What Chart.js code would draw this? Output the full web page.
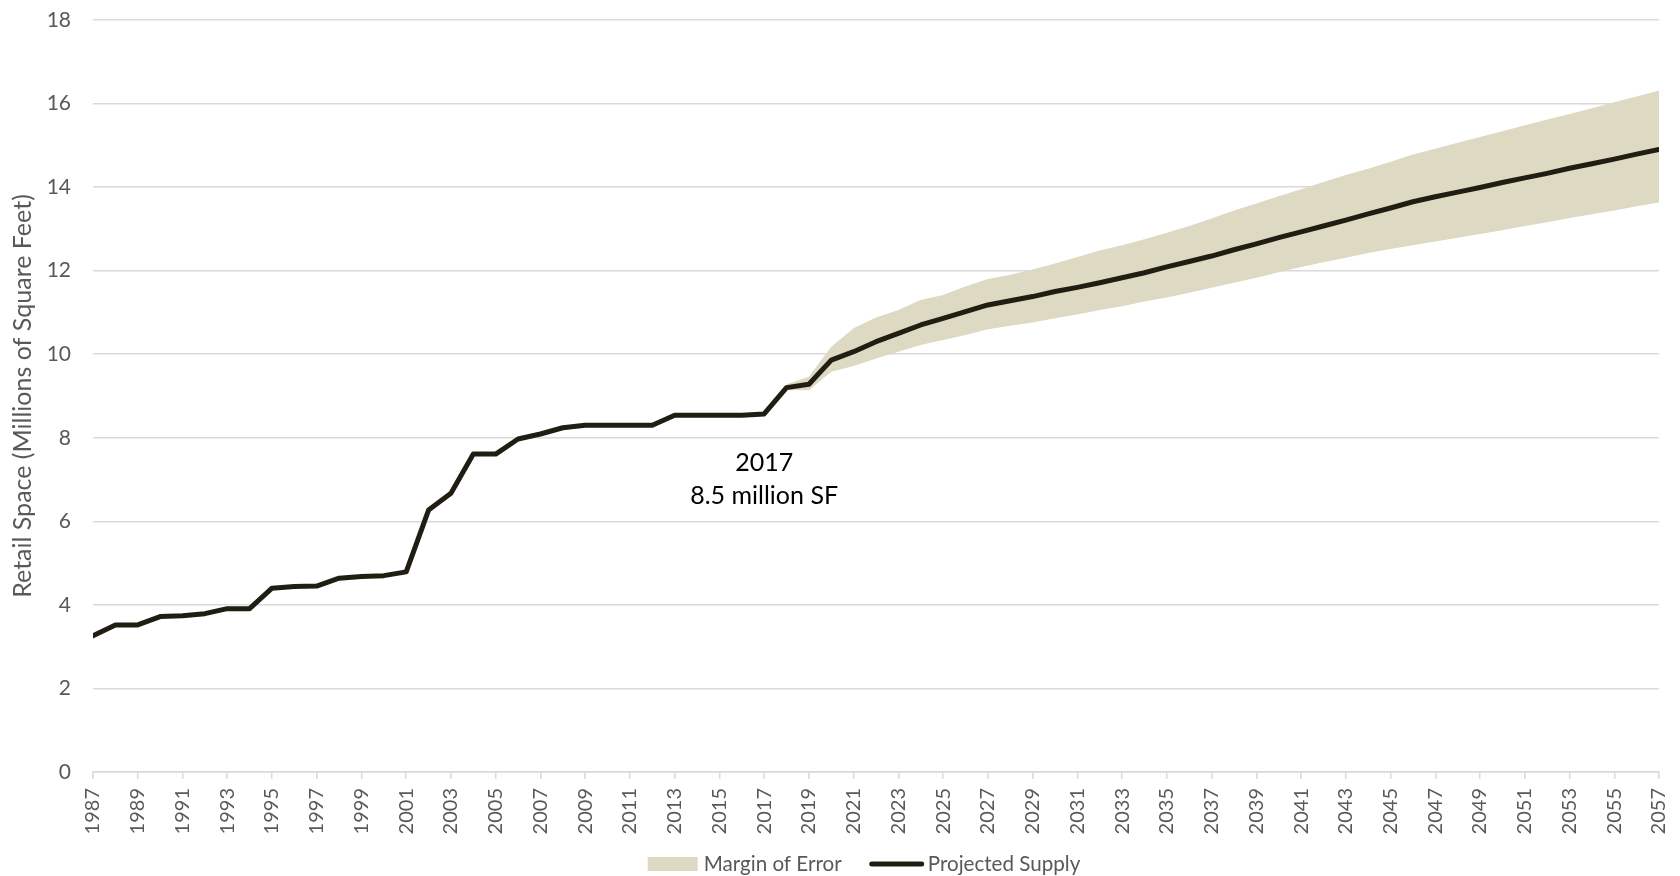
<!DOCTYPE html>
<html>
<head>
<meta charset="utf-8">
<script src="https://cdn.jsdelivr.net/npm/chart.js@4.4.1/dist/chart.umd.min.js"></script>
<style>
  html, body { margin: 0; padding: 0; background: #fff; overflow: hidden; }
  #wrap { width: 1680px; height: 876px; position: relative; }
</style>
</head>
<body>
<div id="wrap"><canvas id="supply-chart"></canvas></div>
<script>
// years on the x axis
const years = [
  1987, 1988, 1989, 1990, 1991, 1992, 1993, 1994, 1995, 1996,
  1997, 1998, 1999, 2000, 2001, 2002, 2003, 2004, 2005, 2006,
  2007, 2008, 2009, 2010, 2011, 2012, 2013, 2014, 2015, 2016,
  2017, 2018, 2019, 2020, 2021, 2022, 2023, 2024, 2025, 2026,
  2027, 2028, 2029, 2030, 2031, 2032, 2033, 2034, 2035, 2036,
  2037, 2038, 2039, 2040, 2041, 2042, 2043, 2044, 2045, 2046,
  2047, 2048, 2049, 2050, 2051, 2052, 2053, 2054, 2055, 2056, 2057
];

// retail space, millions of SF
const projectedSupply = [
  3.26, 3.52, 3.52, 3.72, 3.74, 3.79, 3.91, 3.91, 4.40, 4.44,
  4.45, 4.64, 4.68, 4.70, 4.79, 6.27, 6.67, 7.61, 7.61, 7.97,
  8.09, 8.24, 8.30, 8.30, 8.30, 8.30, 8.54, 8.54, 8.54, 8.54,
  8.57, 9.20, 9.28, 9.86, 10.06, 10.30, 10.50, 10.70, 10.86, 11.02,
  11.18, 11.28, 11.38, 11.50, 11.60, 11.71, 11.83, 11.95, 12.09, 12.22,
  12.35, 12.50, 12.64, 12.79, 12.93, 13.07, 13.21, 13.36, 13.50, 13.65,
  13.77, 13.88, 13.99, 14.11, 14.22, 14.33, 14.45, 14.56, 14.67, 14.79, 14.90
];

// margin of error band, starts in 2018
const bandStartYear = 2018;
const bandLow = [
  9.14, 9.14, 9.58, 9.72, 9.90, 10.06, 10.22, 10.34, 10.46, 10.60,
  10.68, 10.76, 10.86, 10.95, 11.06, 11.15, 11.26, 11.36, 11.47, 11.59,
  11.71, 11.83, 11.96, 12.09, 12.20, 12.31, 12.42, 12.52, 12.61, 12.70,
  12.79, 12.88, 12.97, 13.07, 13.16, 13.26, 13.35, 13.44, 13.54, 13.63
];
const bandHigh = [
  9.28, 9.46, 10.18, 10.62, 10.88, 11.06, 11.30, 11.42, 11.62, 11.80,
  11.90, 12.03, 12.17, 12.33, 12.48, 12.61, 12.75, 12.91, 13.07, 13.25,
  13.44, 13.61, 13.78, 13.95, 14.12, 14.29, 14.44, 14.61, 14.78, 14.92,
  15.06, 15.20, 15.34, 15.48, 15.62, 15.75, 15.89, 16.03, 16.17, 16.31
];

const yTicks = [0, 2, 4, 6, 8, 10, 12, 14, 16, 18];

// callout text
const noteLines = ['2017', '8.5 million SF'];
const noteYear = 2017;
const noteLevels = [7.40, 6.61];

const bandYears = years.slice(years.indexOf(bandStartYear));
const toPoints = (xs, ys) => xs.map((x, i) => ({x: x, y: ys[i]}));

const LINE = '#201d12';
const BAND = '#ddd9c3';
const GRID = '#d9d9d9';
const TEXT = '#595959';
const FONT = 'Lato, "Open Sans", sans-serif';

Chart.defaults.font.family = FONT;
Chart.defaults.font.size = 20;
Chart.defaults.color = TEXT;

const notePlugin = {
  id: 'note',
  afterDatasetsDraw(chart) {
    const ctx = chart.ctx;
    const x = chart.scales.x, y = chart.scales.y;
    ctx.save();
    ctx.font = '25px ' + FONT;
    ctx.fillStyle = '#000';
    ctx.textAlign = 'center';
    ctx.textBaseline = 'middle';
    noteLines.forEach(function (t, i) {
      ctx.fillText(t, x.getPixelForValue(noteYear), y.getPixelForValue(noteLevels[i]));
    });
    ctx.restore();
  }
};

// Excel-style legend: swatch box for the band, short line for the supply
const bottomLegend = {
  id: 'bottomLegend',
  afterDraw(chart) {
    const ctx = chart.ctx;
    const band = chart.data.datasets[2];
    const line = chart.data.datasets[0];
    const swatchW = 50, gapText = 6, gapItem = 30;
    const cy = chart.height - 12;
    ctx.save();
    ctx.font = '20.6px ' + FONT;
    ctx.textBaseline = 'middle';
    const w1 = ctx.measureText(band.label).width;
    const w2 = ctx.measureText(line.label).width;
    const total = swatchW + gapText + w1 + gapItem + swatchW + gapText + w2;
    const mid = (chart.chartArea.left + chart.chartArea.right) / 2 - 12;
    let x = mid - total / 2;
    ctx.fillStyle = band.backgroundColor;
    ctx.fillRect(x, cy - 7, swatchW, 14);
    x += swatchW + gapText;
    ctx.fillStyle = TEXT;
    ctx.fillText(band.label, x, cy);
    x += w1 + gapItem;
    ctx.strokeStyle = line.borderColor;
    ctx.lineWidth = line.borderWidth;
    ctx.lineCap = 'round';
    ctx.beginPath();
    ctx.moveTo(x, cy);
    ctx.lineTo(x + swatchW, cy);
    ctx.stroke();
    x += swatchW + gapText;
    ctx.fillText(line.label, x, cy);
    ctx.restore();
  }
};

const config = {
  type: 'line',
  data: {
    datasets: [
      {
        label: 'Projected Supply',
        data: toPoints(years, projectedSupply),
        borderColor: LINE,
        backgroundColor: LINE,
        borderWidth: 5,
        pointRadius: 0,
        borderJoinStyle: 'round',
        borderCapStyle: 'round',
        tension: 0,
        fill: false,
        order: 0
      },
      {
        label: 'bandLow',
        data: toPoints(bandYears, bandLow),
        borderWidth: 0,
        borderColor: 'rgba(0,0,0,0)',
        pointRadius: 0,
        fill: false,
        order: 2
      },
      {
        label: 'Margin of Error',
        data: toPoints(bandYears, bandHigh),
        borderWidth: 0,
        borderColor: 'rgba(0,0,0,0)',
        backgroundColor: BAND,
        pointRadius: 0,
        fill: '-1',
        order: 1
      }
    ]
  },
  options: {
    responsive: true,
    maintainAspectRatio: false,
    animation: false,
    layout: {
      padding: {left: 0, right: 21, top: 20, bottom: 0}
    },
    plugins: {
      tooltip: {enabled: false},
      legend: {display: false}
    },
    scales: {
      x: {
        type: 'linear',
        min: 1987,
        max: 2057,
        border: {display: true, color: GRID, width: 1.5},
        grid: {
          drawOnChartArea: false,
          drawTicks: true,
          tickLength: 7,
          color: GRID,
          lineWidth: 1.5
        },
        ticks: {
          stepSize: 2,
          autoSkip: false,
          minRotation: 90,
          maxRotation: 90,
          padding: 9,
          color: TEXT,
          font: {size: 20},
          callback: function (v) { return String(v); }
        },
        afterFit: function (scale) {
          scale.height = 104;
          scale.paddingLeft = 0;
          scale.paddingRight = 0;
        }
      },
      y: {
        min: 0,
        max: 18,
        border: {display: false},
        grid: {color: GRID, lineWidth: 1.5, drawTicks: false},
        afterBuildTicks: function (scale) {
          scale.ticks = yTicks.map(function (v) { return {value: v}; });
        },
        ticks: {padding: 22, color: TEXT, font: {size: 21}},
        title: {
          display: true,
          text: 'Retail Space (Millions of Square Feet)',
          color: TEXT,
          font: {size: 25},
          padding: {top: 8, bottom: 0}
        },
        afterFit: function (scale) {
          scale.width = 93;
          scale.paddingTop = 0;
          scale.paddingBottom = 0;
        }
      }
    }
  },
  plugins: [notePlugin, bottomLegend]
};

new Chart(document.getElementById('supply-chart'), config);
</script>
</body>
</html>
